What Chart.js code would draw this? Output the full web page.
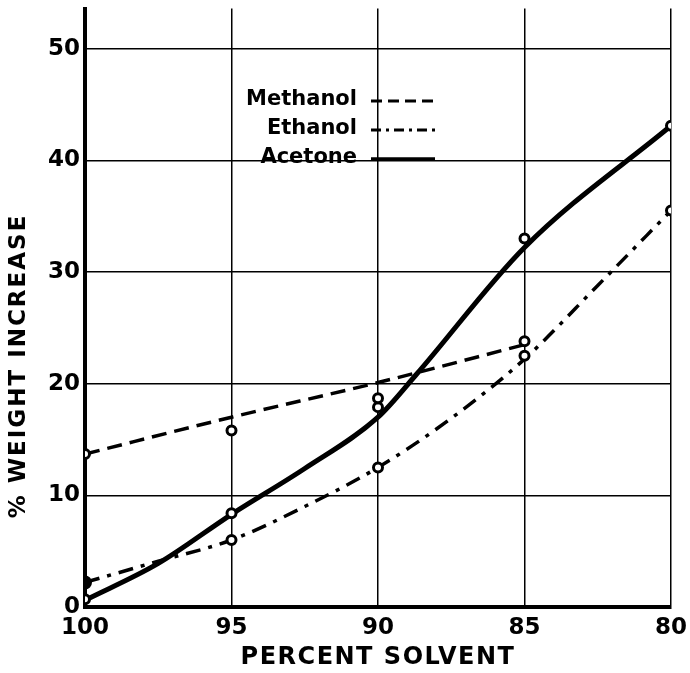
<!DOCTYPE html>
<html>
<head>
<meta charset="utf-8">
<script src="https://cdn.jsdelivr.net/npm/chart.js@4"></script>
<style>
    html, body { margin: 0; padding: 0; background: #fff; }
</style>
</head>
<body>
<canvas id="chart" width="690" height="673"></canvas>
<script>
// tick labels
const solventTicks = [100, 95, 90, 85, 80];
const weightTicks = [0, 10, 20, 30, 40, 50];

// measured points (the small circles)
const methanolX = [100, 95, 90, 85];
const methanolY = [13.7, 15.8, 18.7, 23.8];
const ethanolX = [100, 95, 90, 85, 80];
const ethanolY = [2.2, 6.0, 12.5, 22.5, 35.5];
const acetoneX = [100, 95, 90, 85, 80];
const acetoneY = [0.7, 8.4, 17.9, 33.0, 43.1];

// hand drawn curves through the points
const methanolCurveX = [100, 95, 90, 85];
const methanolCurveY = [13.7, 17.0, 20.1, 23.5];
const ethanolCurveX = [100, 97.5, 95, 92.5, 90, 87.5, 85, 82.5, 80];
const ethanolCurveY = [2.2, 4.1, 6.0, 9.0, 12.5, 16.9, 22.2, 28.8, 35.5];
const acetoneCurveX = [100, 97.5, 95, 92.5, 90, 88.7, 85, 80];
const acetoneCurveY = [0.6, 3.9, 8.3, 12.4, 17.0, 20.8, 32.2, 43.1];

const toXY = (xs, ys) => xs.map((x, i) => ({ x: x, y: ys[i] }));

const FONT = '"DejaVu Sans", "Liberation Sans", sans-serif';

const pointStyle = {
    showLine: false,
    pointRadius: 4.5,
    pointBorderWidth: 3,
    pointBorderColor: '#000',
    pointBackgroundColor: '#fff',
    order: 0
};

const curveStyle = {
    showLine: true,
    pointRadius: 0,
    borderColor: '#000',
    cubicInterpolationMode: 'monotone',
    order: 1
};

// axis titles and the little key in the upper left
const textPlugin = {
    id: 'textPlugin',
    afterDraw(chart) {
        const ctx = chart.ctx;
        const area = chart.chartArea;

        ctx.save();
        ctx.fillStyle = '#000';
        ctx.font = 'bold 23px ' + FONT;
        ctx.letterSpacing = '2px';
        ctx.textAlign = 'center';
        ctx.textBaseline = 'middle';
        ctx.translate(19, 366);
        ctx.rotate(-Math.PI / 2);
        ctx.fillText('% WEIGHT INCREASE', 0, 0);
        ctx.restore();

        ctx.save();
        ctx.fillStyle = '#000';
        ctx.font = 'bold 24px ' + FONT;
        ctx.letterSpacing = '1.5px';
        ctx.textAlign = 'center';
        ctx.textBaseline = 'middle';
        ctx.fillText('PERCENT SOLVENT', (area.left + area.right) / 2, 658);
        ctx.restore();

        const key = [
            { text: 'Methanol', y: 100, dash: [11, 6], width: 3 },
            { text: 'Ethanol', y: 129, dash: [10, 5, 3, 5], width: 3 },
            { text: 'Acetone', y: 158, dash: [], width: 3.5 }
        ];
        ctx.save();
        ctx.fillStyle = '#000';
        ctx.strokeStyle = '#000';
        ctx.font = 'bold 21px ' + FONT;
        ctx.textAlign = 'right';
        ctx.textBaseline = 'middle';
        key.forEach(k => {
            ctx.fillText(k.text, 357, k.y);
            ctx.beginPath();
            ctx.lineWidth = k.width;
            ctx.setLineDash(k.dash);
            ctx.moveTo(371, k.y + 1);
            ctx.lineTo(435, k.y + 1);
            ctx.stroke();
        });
        ctx.restore();
    }
};

const ctx = document.getElementById('chart').getContext('2d');
const chart = new Chart(ctx, {
    type: 'scatter',
    data: {
        datasets: [
            { ...pointStyle, label: 'Methanol', data: toXY(methanolX, methanolY) },
            {
                ...pointStyle,
                label: 'Ethanol',
                data: toXY(ethanolX, ethanolY),
                pointBackgroundColor: ethanolX.map(x => x === 100 ? '#000' : '#fff'),
                pointRadius: ethanolX.map(x => x === 100 ? 5.5 : 4.5)
            },
            { ...pointStyle, label: 'Acetone', data: toXY(acetoneX, acetoneY) },
            {
                ...curveStyle,
                label: 'Methanol curve',
                data: toXY(methanolCurveX, methanolCurveY),
                borderWidth: 3.5,
                borderDash: [15, 8]
            },
            {
                ...curveStyle,
                label: 'Ethanol curve',
                data: toXY(ethanolCurveX, ethanolCurveY),
                borderWidth: 3.5,
                borderDash: [15, 8, 4, 8]
            },
            {
                ...curveStyle,
                label: 'Acetone curve',
                data: toXY(acetoneCurveX, acetoneCurveY),
                borderWidth: 5,
                borderCapStyle: 'round'
            }
        ]
    },
    options: {
        responsive: false,
        animation: false,
        devicePixelRatio: 1,
        layout: { padding: { top: 7, right: 19, left: 0, bottom: 0 } },
        plugins: {
            legend: { display: false },
            tooltip: { enabled: false }
        },
        scales: {
            x: {
                type: 'linear',
                reverse: true,
                min: 80,
                max: 100,
                afterBuildTicks: scale => {
                    scale.ticks = solventTicks.map(v => ({ value: v }));
                },
                afterFit: scale => {
                    scale.height = 66;
                    scale.paddingLeft = 0;
                    scale.paddingRight = 0;
                },
                grid: { color: '#000', lineWidth: 1.5, drawTicks: false },
                border: { color: '#000', width: 4 },
                ticks: {
                    color: '#000',
                    padding: 7,
                    maxRotation: 0,
                    font: { family: FONT, size: 23, weight: 'bold' }
                }
            },
            y: {
                min: 0,
                max: 53.6,
                afterBuildTicks: scale => {
                    scale.ticks = weightTicks.map(v => ({ value: v }));
                },
                afterFit: scale => {
                    scale.width = 85;
                    scale.paddingTop = 0;
                    scale.paddingBottom = 0;
                },
                grid: { color: '#000', lineWidth: 1.5, drawTicks: false },
                border: { color: '#000', width: 4 },
                ticks: {
                    color: '#000',
                    padding: 5,
                    font: { family: FONT, size: 23, weight: 'bold' }
                }
            }
        }
    },
    plugins: [textPlugin]
});
</script>
</body>
</html>
